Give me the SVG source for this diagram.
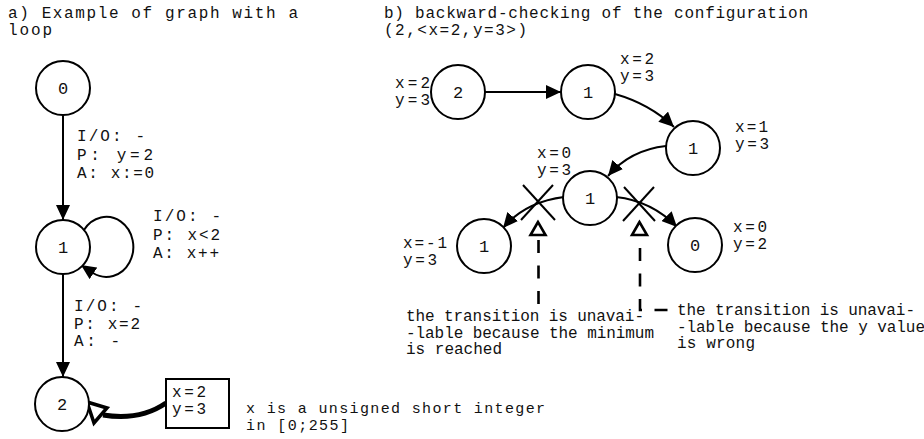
<svg xmlns="http://www.w3.org/2000/svg" width="924" height="439" viewBox="0 0 924 439">
<defs>
<style>
text{font-family:"Liberation Mono","DejaVu Sans Mono",monospace;font-size:16px;fill:#111}
.n circle{fill:#fff;stroke:#000;stroke-width:2}
.n text{font-size:17px;text-anchor:middle}
.e{fill:none;stroke:#000;stroke-width:2}
.x{stroke:#000;stroke-width:2}
.tri{fill:#fff;stroke:#000;stroke-width:2.6;stroke-linejoin:miter}
.d{fill:none;stroke:#000;stroke-width:2.6;stroke-dasharray:13 12.5}
.sm{font-size:15px}
</style>
<marker id="ah" markerUnits="userSpaceOnUse" markerWidth="15" markerHeight="14" viewBox="0 0 15 14" refX="15" refY="7" orient="auto">
<path d="M0,0 L15,7 L0,14 z" fill="#000"/>
</marker>
</defs>
<rect width="924" height="439" fill="#fff"/>

<g id="titles">
<text x="8" y="18" textLength="290">a) Example of graph with a</text>
<text x="8" y="34.5" textLength="44">loop</text>
<text x="384" y="18" textLength="424">b) backward-checking of the configuration</text>
<text x="384" y="34.5" textLength="143">(2,&lt;x=2,y=3&gt;)</text>
</g>

<g id="connectors">
<path class="e" d="M63 115 V220" marker-end="url(#ah)"/>
<path class="e" d="M84 230 A27 30 0 1 1 93 273 L81 265" marker-end="url(#ah)"/>
<path class="e" d="M63 274 V377" marker-end="url(#ah)"/>
<path d="M166 403 Q140 421 103 415" fill="none" stroke="#000" stroke-width="5"/>
<polygon points="87,402 94,423 107,408" fill="#fff" stroke="#000" stroke-width="3.5"/>
<path class="e" d="M485 92 H561" marker-end="url(#ah)"/>
<path class="e" d="M615 94 Q650 104 674 127" marker-end="url(#ah)"/>
<path class="e" d="M666 146 Q630 150 608 176" marker-end="url(#ah)"/>
<path class="e" d="M564 197 Q525 202 503 228" marker-end="url(#ah)"/>
<path class="e" d="M616 197 Q652 201 677 227" marker-end="url(#ah)"/>
</g>

<g id="edge-labels">
<text x="77" y="141" textLength="68">I/O: -</text>
<text x="77" y="159.5" textLength="76">P: y=2</text>
<text x="77" y="178" textLength="77">A: x:=0</text>
<text x="153" y="221" textLength="68">I/O: -</text>
<text x="153" y="240" textLength="67">P: x&lt;2</text>
<text x="153" y="258" textLength="66">A: x++</text>
<text x="74" y="311" textLength="68">I/O: -</text>
<text x="74" y="328.5" textLength="66">P: x=2</text>
<text x="74" y="346" textLength="46">A: -</text>
</g>

<g id="node-a0" class="n"><circle cx="63" cy="88" r="27"/><text x="63" y="94">0</text></g>
<g id="node-a1" class="n"><circle cx="63" cy="247" r="27"/><text x="63" y="253">1</text></g>
<g id="node-a2" class="n"><circle cx="62" cy="404" r="27"/><text x="62" y="410">2</text></g>

<g id="value-box">
<rect x="166" y="379" width="63" height="49" fill="#fff" stroke="#000" stroke-width="2"/>
<text x="172" y="397" textLength="34">x=2</text>
<text x="172" y="414" textLength="34">y=3</text>
</g>
<g id="note-a" class="sm">
<text class="sm" x="246" y="413" textLength="299">x is a unsigned short integer</text>
<text class="sm" x="246" y="430" textLength="103">in [0;255]</text>
</g>

<g id="node-b2" class="n"><circle cx="458" cy="92" r="27"/><text x="458" y="98">2</text></g>
<g id="node-b1a" class="n"><circle cx="588" cy="92" r="27"/><text x="588" y="98">1</text></g>
<g id="node-b1b" class="n"><circle cx="693" cy="148" r="27"/><text x="693" y="154">1</text></g>
<g id="node-b1c" class="n"><circle cx="590" cy="198" r="27"/><text x="590" y="204">1</text></g>
<g id="node-b1d" class="n"><circle cx="484" cy="246" r="27"/><text x="484" y="252">1</text></g>
<g id="node-b0" class="n"><circle cx="695" cy="245" r="27"/><text x="695" y="251">0</text></g>

<g id="node-values">
<text x="395" y="88" textLength="35">x=2</text>
<text x="395" y="105" textLength="35">y=3</text>
<text x="620" y="64" textLength="34">x=2</text>
<text x="620" y="81" textLength="34">y=3</text>
<text x="735" y="131.5" textLength="33">x=1</text>
<text x="735" y="149" textLength="34">y=3</text>
<text x="537" y="158" textLength="34">x=0</text>
<text x="537" y="175" textLength="34">y=3</text>
<text x="403" y="248" textLength="44">x=-1</text>
<text x="403" y="265" textLength="34">y=3</text>
<text x="733" y="232" textLength="34">x=0</text>
<text x="733" y="249" textLength="34">y=2</text>
</g>

<g id="blocked-left">
<line class="x" x1="523" y1="185" x2="555" y2="220"/>
<line class="x" x1="553" y1="185" x2="521" y2="220"/>
<polygon class="tri" points="538,222 530.5,235 545.5,235"/>
<path class="d" d="M538.5 240 V305"/>
<text x="406" y="321" textLength="238">the transition is unavai-</text>
<text x="406" y="337.5" textLength="248">-lable because the minimum</text>
<text x="406" y="354" textLength="96">is reached</text>
</g>

<g id="blocked-right">
<line class="x" x1="624" y1="187" x2="655" y2="221"/>
<line class="x" x1="654" y1="187" x2="623" y2="221"/>
<polygon class="tri" points="639.5,222 632,235 647,235"/>
<path class="d" d="M640 248 V310 H671"/>
<text x="677" y="315" textLength="238">the transition is unavai-</text>
<text x="677" y="331.5" textLength="248">-lable because the y value</text>
<text x="677" y="348" textLength="78">is wrong</text>
</g>
</svg>
